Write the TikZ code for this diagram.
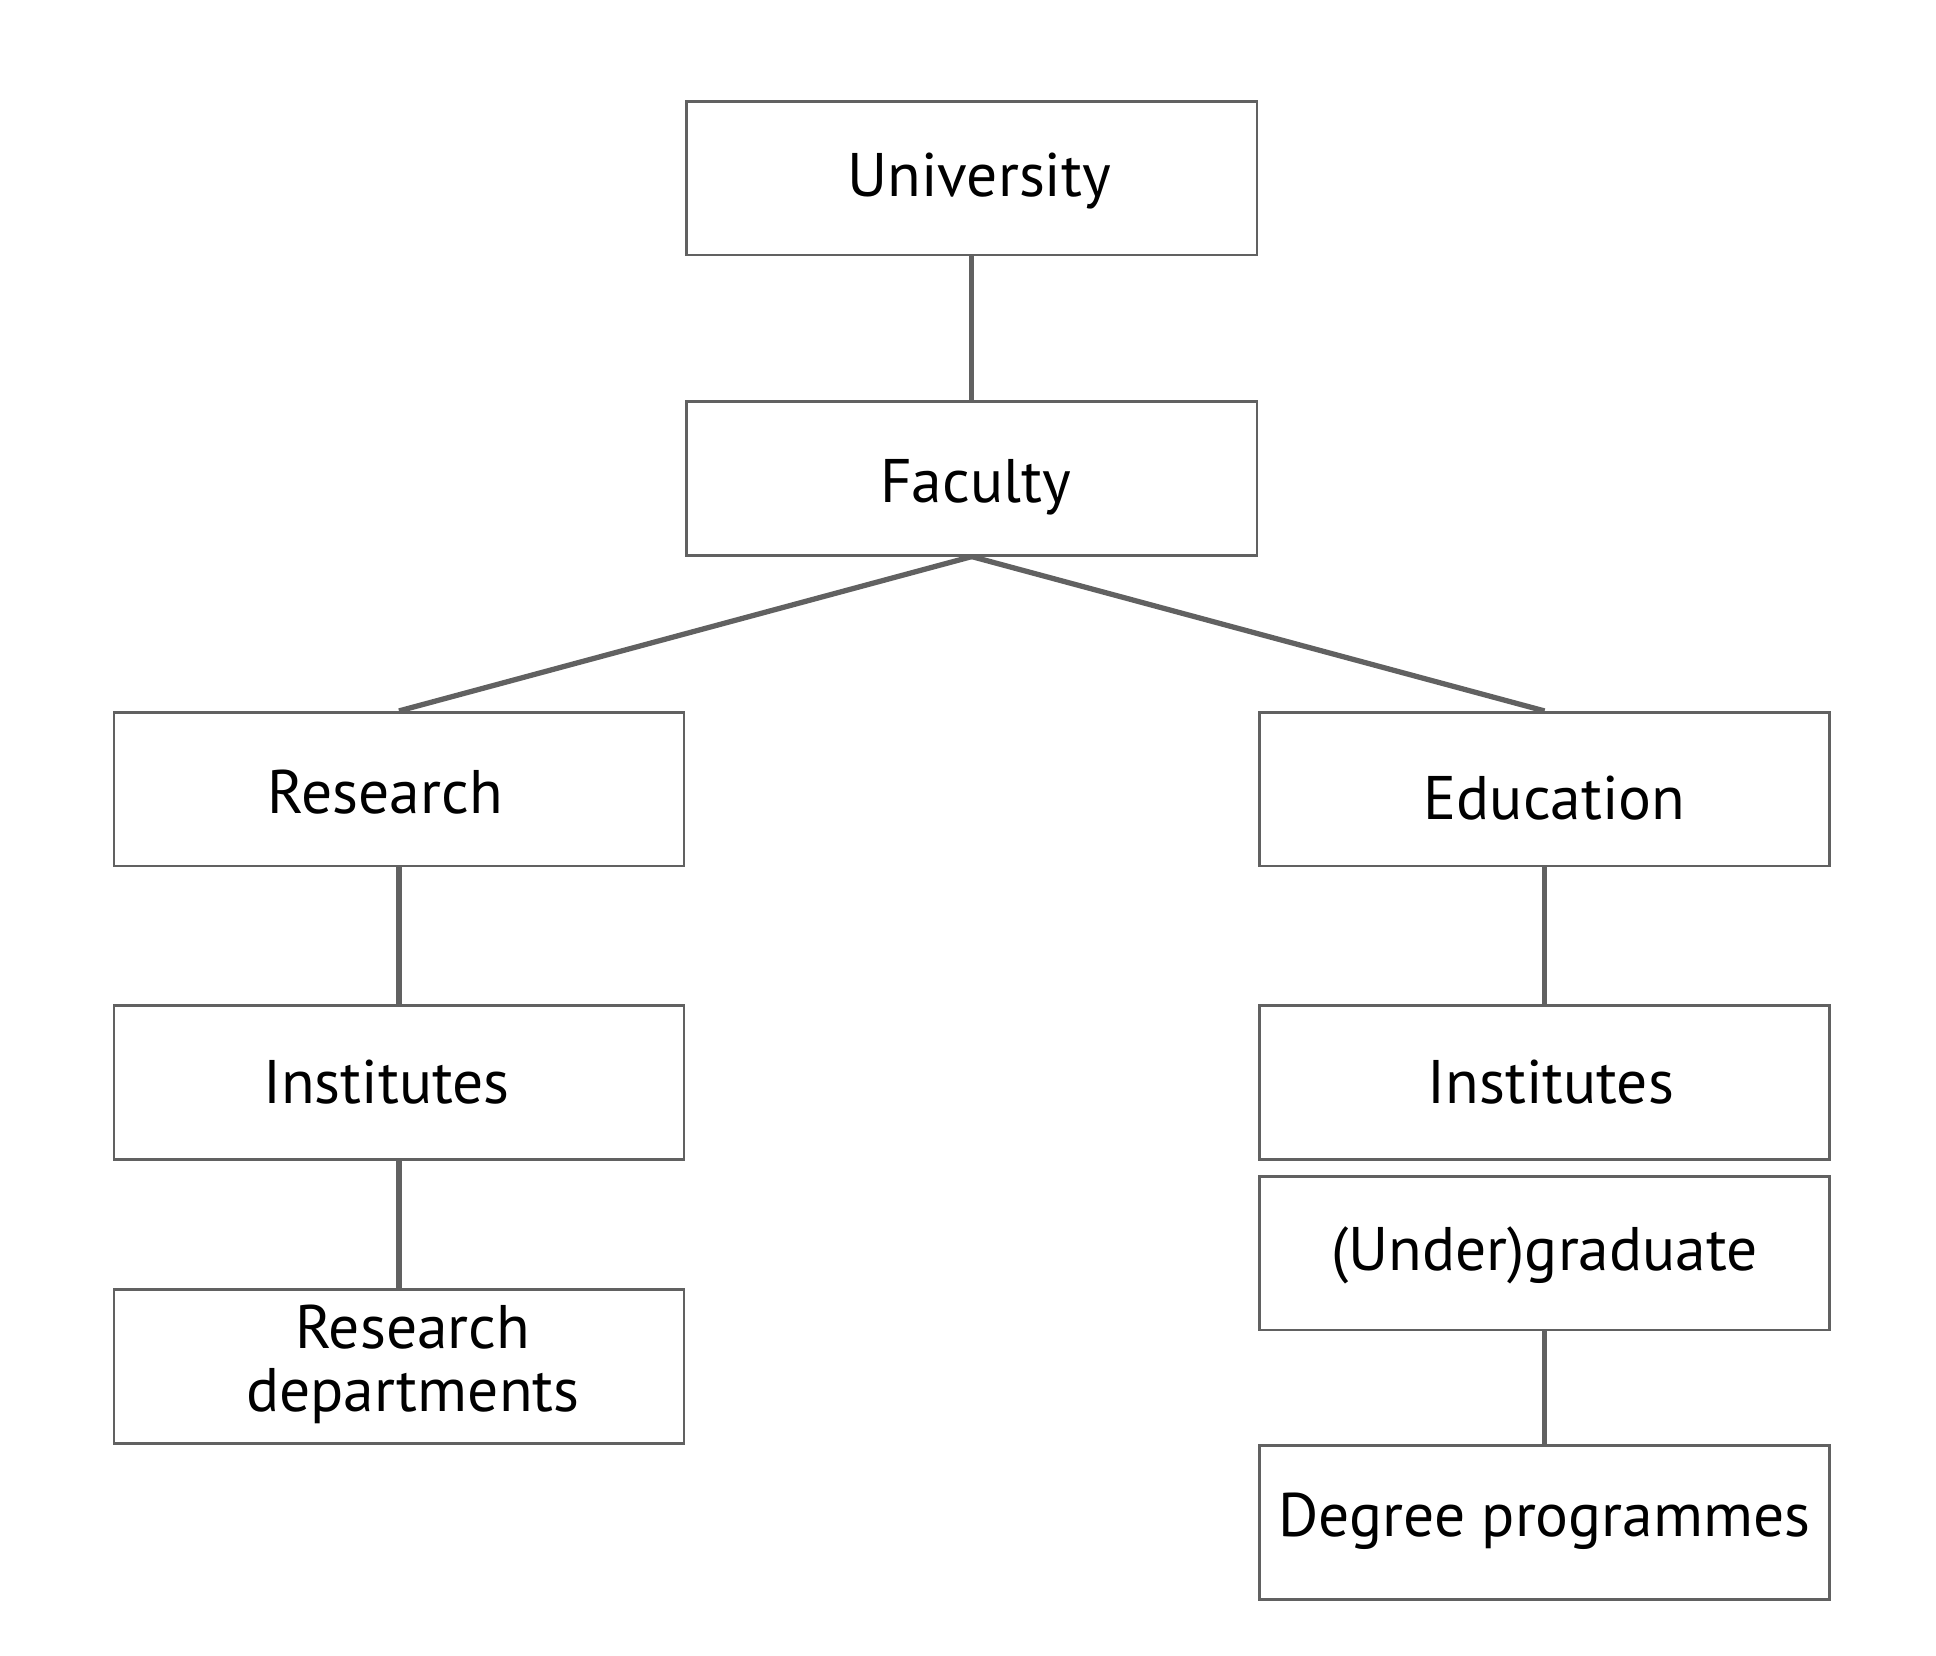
\documentclass[tikz,border=0pt]{standalone}
\usepackage{fontspec}
\setmainfont{PT Sans}
\begin{document}
\begin{tikzpicture}[x=0.02cm,y=-0.02cm,
  box/.style={draw=black!62,line width=1.2pt,minimum width=9.12cm,minimum height=2.46cm,inner sep=0pt},
  lbl/.style={font=\fontsize{28}{33}\selectfont,align=center},
  link/.style={draw=black!62,line width=2.4pt}]
\useasboundingbox (0,0) rectangle (1548,1324);
\node[box] (uni) at (777,142.5) {};
\node[box] (fac) at (777,382.5) {};
\node[box] (res) at (319,631) {};
\node[box] (edu) at (1235,631) {};
\node[box] (instl) at (319,865.5) {};
\node[box] (instr) at (1235,865.5) {};
\node[box] (under) at (1235,1002) {};
\node[box] (dept) at (319,1092.5) {};
\node[box] (deg) at (1235,1217.5) {};
\node[lbl] (tuni) at (783,145) {University};
\node[lbl] (tfac) at (780,390) {Faculty};
\node[lbl] (tres) at (308,633) {Research};
\node[lbl] (tedu) at (1243,638) {Education};
\node[lbl] (tinstl) at (309,865) {Institutes};
\node[lbl] (tinstr) at (1240,865) {Institutes};
\node[lbl] (tunder) at (1235,1004) {(Under)graduate};
\node[lbl] (tdept) at (330,1091) {Research\\[-4pt]departments};
\node[lbl] (tdeg) at (1235,1216) {Degree programmes};
\draw[link] (uni.south) -- (fac.north);
\draw[link] (fac.south) -- (res.north);
\draw[link] (fac.south) -- (edu.north);
\draw[link] (res.south) -- (instl.north);
\draw[link] (instl.south) -- (dept.north);
\draw[link] (edu.south) -- (instr.north);
\draw[link] (under.south) -- (deg.north);
\end{tikzpicture}
\end{document}
